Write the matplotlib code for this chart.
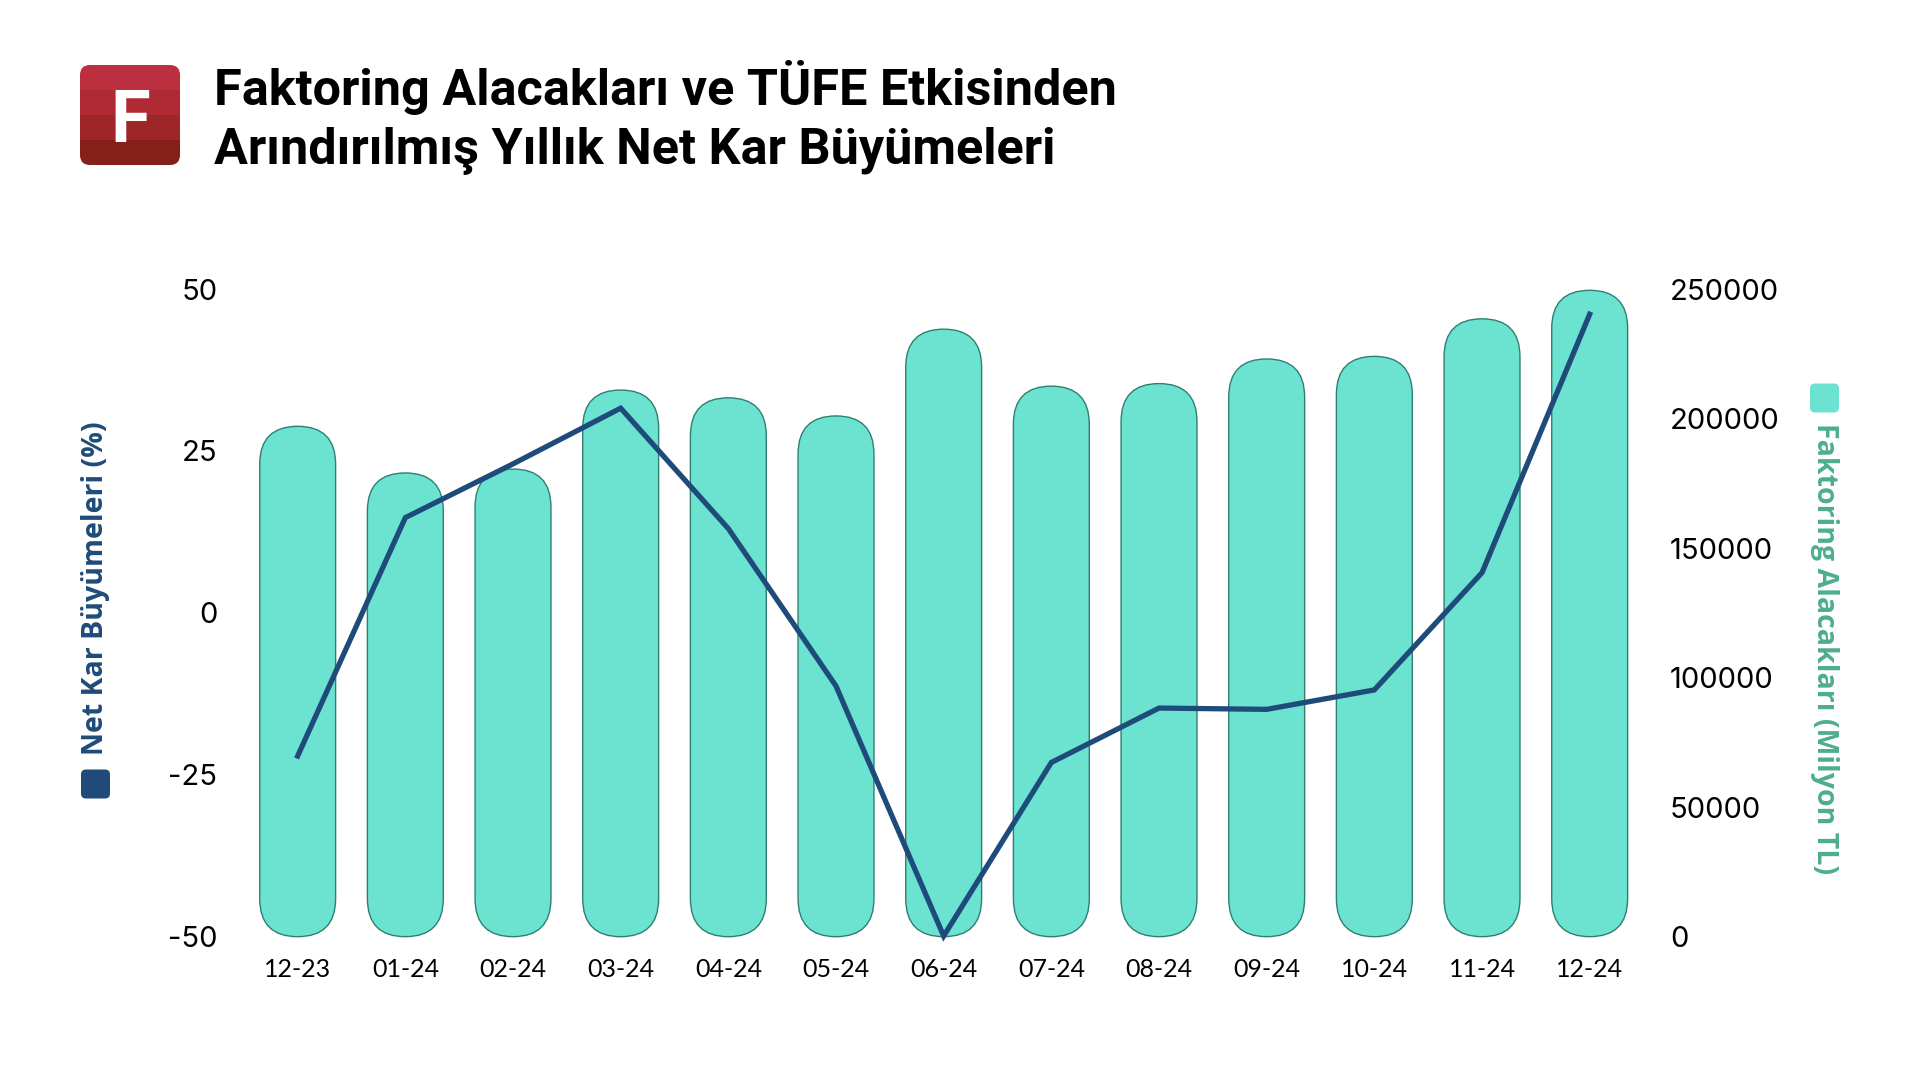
import matplotlib
matplotlib.use("Agg")
import matplotlib.pyplot as plt
from matplotlib.patches import FancyBboxPatch, Rectangle
from matplotlib.transforms import IdentityTransform
import numpy as np

# ---------------- data ----------------
months = ["12-23", "01-24", "02-24", "03-24", "04-24", "05-24", "06-24",
          "07-24", "08-24", "09-24", "10-24", "11-24", "12-24"]
receivables = [197000, 179000, 180500, 211000, 208000, 201000, 234500,
               212500, 213500, 223000, 224000, 238500, 249500]
net_profit_growth = [-22.1, 14.7, 23.0, 31.6, 13.0, -11.3, -49.9,
                     -23.1, -14.7, -14.9, -11.9, 6.2, 46.1]
left_ticks = [-50, -25, 0, 25, 50]
right_ticks = [0, 50000, 100000, 150000, 200000, 250000]
title_lines = ["Faktoring Alacakları ve TÜFE Etkisinden",
               "Arındırılmış Yıllık Net Kar Büyümeleri"]
left_label = "Net Kar Büyümeleri (%)"
right_label = "Faktoring Alacakları (Milyon TL)"

BAR_C = "#6CE3D0"
BAR_EDGE = "#2E7F72"
LINE_C = "#1F4B7A"
RIGHT_LBL_C = "#4DAE8C"

W, H = 1920, 1080
fig = plt.figure(figsize=(W / 100, H / 100), dpi=100)
fig.patch.set_facecolor("white")

ax = fig.add_axes([0.127, 0.1327, 0.729, 0.5997])
ax2 = ax.twinx()
x = np.arange(len(months))

ax.set_xlim(-0.5, len(months) - 0.5)
ax.set_ylim(-50, 50)
ax2.set_ylim(0, 250000)

# rounded bars on right axis
bar_w = 0.705
p0 = ax2.transData.transform((0, 0))
p1 = ax2.transData.transform((1, 1))
aspect = (p1[0] - p0[0]) / (p1[1] - p0[1])
for xi, v in zip(x, receivables):
    patch = FancyBboxPatch((xi - bar_w / 2, 0), bar_w, v,
                           boxstyle=f"round,pad=0,rounding_size={bar_w / 2}",
                           mutation_aspect=aspect, fc=BAR_C, ec=BAR_EDGE,
                           lw=1.0, clip_on=False)
    ax2.add_patch(patch)

# line on left axis
ax.plot(x, net_profit_growth, color=LINE_C, lw=3.8, clip_on=False,
        solid_joinstyle="miter", zorder=5)

ax.set_zorder(ax2.get_zorder() + 1)
ax.patch.set_visible(False)

for a in (ax, ax2):
    for s in a.spines.values():
        s.set_visible(False)

ax.set_xticks(x)
ax.set_xticklabels(months, fontsize=18, family="Lato")
ax.set_yticks(left_ticks)
ax.set_yticklabels([str(t) for t in left_ticks], fontsize=21, family="Inter")
ax2.set_yticks(right_ticks)
ax2.set_yticklabels([str(t) for t in right_ticks], fontsize=21, family="Inter")
ax.tick_params(axis="x", length=0, pad=15)
ax.tick_params(axis="y", length=0, pad=19)
ax2.tick_params(axis="y", length=0, pad=19)

# axis titles with square markers
fig.text(95.5 / W, 1 - 588 / H, left_label, rotation=90, ha="center", va="center",
         fontsize=20.5, fontweight="bold", color=LINE_C, family="Open Sans")
fig.text(1824.5 / W, 1 - 649 / H, right_label, rotation=-90, ha="center", va="center",
         fontsize=20.5, fontweight="bold", color=RIGHT_LBL_C, family="Open Sans")
sq = 29
for cx, cy, col in [(95.5, 784, LINE_C), (1824.5, 398, BAR_C)]:
    fig.patches.append(FancyBboxPatch((cx - sq / 2, H - cy - sq / 2), sq, sq,
                                      boxstyle="round,pad=0,rounding_size=5",
                                      transform=IdentityTransform(), fc=col, ec="none"))

# logo
lax = fig.add_axes([80 / W, 1 - 165 / H, 100 / W, 100 / H])
lax.set_xlim(0, 1)
lax.set_ylim(0, 1)
lax.axis("off")
clip = FancyBboxPatch((0, 0), 1, 1, boxstyle="round,pad=0,rounding_size=0.1",
                      transform=lax.transData, fc="none", ec="none")
lax.add_patch(clip)
band_cols = ["#852019", "#9E2629", "#B02A36", "#BB2F3E"]
for i, c in enumerate(band_cols):
    r = Rectangle((0, i * 0.25), 1, 0.25, fc=c, ec="none")
    lax.add_patch(r)
    r.set_clip_path(clip)
lax.text(0.5, 0.5, "F", ha="center", va="center_baseline", color="white",
         fontsize=52, fontweight="bold", family="Roboto")

# title
fig.text(214 / W, 1 - 105 / H, title_lines[0], ha="left", va="baseline",
         fontsize=36.3, fontweight="bold", family="Roboto", color="black")
fig.text(214 / W, 1 - 164 / H, title_lines[1], ha="left", va="baseline",
         fontsize=36.3, fontweight="bold", family="Roboto", color="black")

fig.savefig("out.png", dpi=100)
